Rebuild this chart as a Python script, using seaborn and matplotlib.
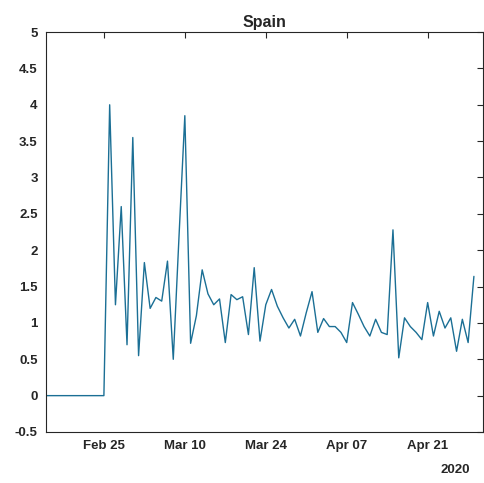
import pandas as pd
import matplotlib
matplotlib.use('Agg')
import matplotlib.pyplot as plt
import matplotlib.dates as mdates
import seaborn as sns

# daily values for Spain, Feb 15 - Apr 29 2020
dates = pd.date_range('2020-02-15', '2020-04-29', freq='D')
values = [0.0] * 11 + [
    4.0, 1.25, 2.6, 0.7, 3.55, 0.55, 1.83, 1.2, 1.35, 1.3,
    1.85, 0.5, 2.2, 3.85, 0.72, 1.1, 1.73, 1.4, 1.25, 1.33,
    0.73, 1.39, 1.32, 1.36, 0.84, 1.76, 0.75, 1.25, 1.46, 1.23,
    1.07, 0.93, 1.05, 0.82, 1.14, 1.43, 0.87, 1.06, 0.95, 0.95,
    0.87, 0.73, 1.28, 1.12, 0.95, 0.82, 1.05, 0.87, 0.84, 2.28,
    0.52, 1.07, 0.95, 0.87, 0.77, 1.28, 0.82, 1.16, 0.93, 1.07,
    0.61, 1.05, 0.73, 1.64,
]
tick_dates = pd.to_datetime(['2020-02-25', '2020-03-10', '2020-03-24',
                             '2020-04-07', '2020-04-21'])
y_ticks = [-0.5, 0, 0.5, 1, 1.5, 2, 2.5, 3, 3.5, 4, 4.5, 5]

df = pd.DataFrame({'Date': dates, 'Value': values})

sns.set_style('white')
plt.rcParams['font.family'] = ['Liberation Sans', 'DejaVu Sans']

fig = plt.figure(figsize=(4.85, 4.83), dpi=100)
ax = fig.add_axes([0.095, 0.1056, 0.901, 0.828])

sns.lineplot(data=df, x='Date', y='Value', ax=ax, color='#1b6f95', linewidth=1.0)

ax.set_xlim(pd.Timestamp('2020-02-15'), pd.Timestamp('2020-04-30 14:00'))
ax.set_ylim(-0.5, 5)
ax.set_xticks(tick_dates)
ax.xaxis.set_major_formatter(mdates.DateFormatter('%b %d'))
ax.set_yticks(y_ticks)
ax.set_yticklabels([f'{t:g}' for t in y_ticks])
ax.set_xlabel('')
ax.set_ylabel('')
ax.set_title('Spain', fontsize=11.5, fontweight='bold', pad=4)

ax.tick_params(direction='in', length=4, width=0.8, top=True, right=True,
               labelsize=9.5, colors='#262626', pad=6)
for lab in ax.get_xticklabels() + ax.get_yticklabels():
    lab.set_fontweight('bold')
for sp in ax.spines.values():
    sp.set_color('#262626')
    sp.set_linewidth(0.8)

fig.text(470 / 485, 1 - 470 / 483, '2020', ha='right', va='center',
         fontsize=9.5, fontweight='bold', color='#262626')

fig.savefig('out.png', dpi=100)
